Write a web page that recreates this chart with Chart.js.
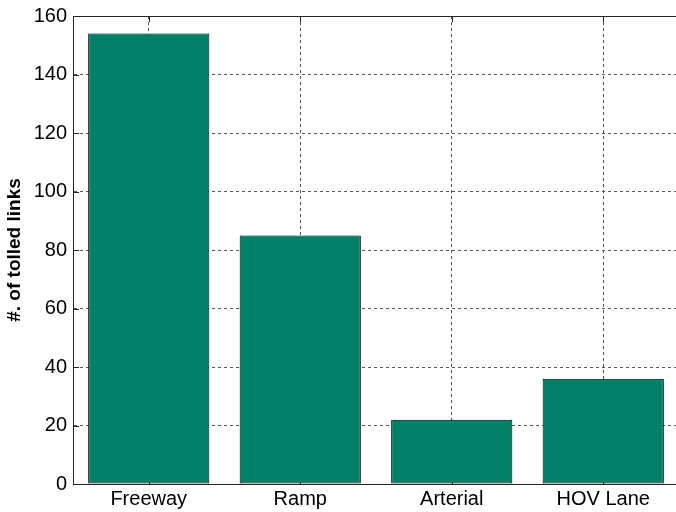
<!DOCTYPE html>
<html>
<head>
<meta charset="utf-8">
<script src="https://cdn.jsdelivr.net/npm/chart.js@4/dist/chart.umd.min.js"></script>
<style>
  html,body{margin:0;padding:0;background:#fff;overflow:hidden;}
  #wrap{width:676px;height:512px;overflow:hidden;position:relative;}
  #c{position:absolute;left:0;top:0;}
</style>
</head>
<body>
<div id="wrap"><canvas id="c" width="700" height="512"></canvas></div>
<script>
// data
const categories = ["Freeway", "Ramp", "Arterial", "HOV Lane"];
const tolledLinks = [154, 85, 22, 36];
const yTicks = [0, 20, 40, 60, 80, 100, 120, 140, 160];

const BAR = "#008066";
const AXIS = "#262626";
const GRID = "#555555";
const FONT = "Liberation Sans, Arial";

// matlab-style box: solid top edge + short inward ticks
const boxTicks = {
  id: "boxTicks",
  beforeDatasetsDraw(chart) {
    const {ctx, chartArea: a, scales: {x, y}} = chart;
    ctx.save();
    ctx.strokeStyle = AXIS;
    ctx.lineWidth = 1;
    ctx.beginPath();
    yTicks.forEach(v => {
      const py = Math.round(y.getPixelForValue(v)) + 0.5;
      ctx.moveTo(a.left, py); ctx.lineTo(a.left + 6, py);
    });
    categories.forEach((c, i) => {
      const px = Math.round(x.getPixelForValue(i)) + 0.5;
      ctx.moveTo(px, a.top); ctx.lineTo(px, a.top + 6);
      ctx.moveTo(px, a.bottom); ctx.lineTo(px, a.bottom - 6);
    });
    ctx.stroke();
    ctx.restore();
  },
  afterDraw(chart) {
    const {ctx, chartArea: a} = chart;
    ctx.save();
    ctx.strokeStyle = AXIS;
    ctx.lineWidth = 1;
    ctx.beginPath();
    ctx.moveTo(a.left, Math.round(a.top) + 0.5);
    ctx.lineTo(a.right, Math.round(a.top) + 0.5);
    ctx.stroke();
    ctx.restore();
  }
};

new Chart(document.getElementById("c"), {
  type: "bar",
  data: {
    labels: categories,
    datasets: [{
      data: tolledLinks,
      backgroundColor: BAR,
      borderColor: "#000",
      borderWidth: 1,
      borderSkipped: false,
      barPercentage: 0.8,
      categoryPercentage: 1.0
    }]
  },
  options: {
    responsive: false,
    animation: false,
    devicePixelRatio: 1,
    layout: {padding: {top: 16, left: 0, right: 21, bottom: 0}},
    plugins: {legend: {display: false}, tooltip: {enabled: false}},
    scales: {
      x: {
        offset: true,
        grid: {offset: false, color: GRID, lineWidth: 1, drawTicks: false},
        border: {color: AXIS, width: 1, dash: [3, 3]},
        ticks: {color: "#000", padding: 3, font: {family: FONT, size: 20}},
        afterFit: s => { s.height = 28; }
      },
      y: {
        min: 0, max: 160,
        afterBuildTicks: s => { s.ticks = yTicks.map(v => ({value: v})); },
        grid: {color: GRID, lineWidth: 1, drawTicks: false},
        border: {color: AXIS, width: 1, dash: [3, 3]},
        ticks: {color: "#000", padding: 6, font: {family: FONT, size: 20, lineHeight: 1}},
        title: {
          display: true, text: "#. of tolled links", color: "#000",
          font: {family: FONT, size: 19, weight: "bold"},
          padding: {top: 3, bottom: 0}
        },
        afterFit: s => { s.width = 73; }
      }
    }
  },
  plugins: [boxTicks]
});
</script>
</body>
</html>
